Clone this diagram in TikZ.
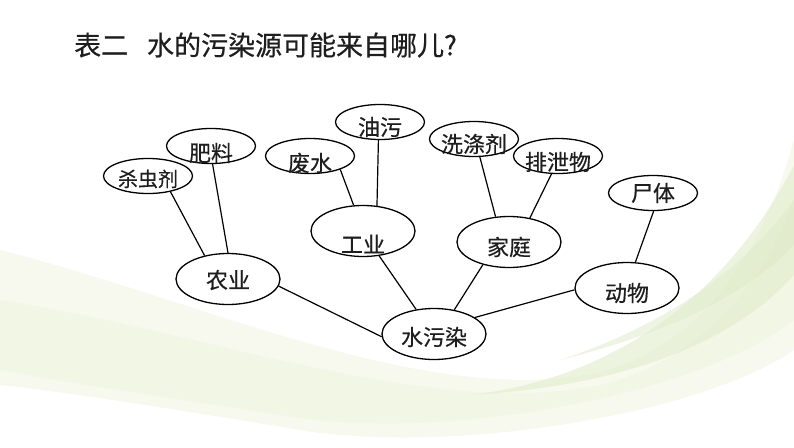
\documentclass[tikz,border=0pt]{standalone}
\usepackage{fontspec}
\newfontfamily\cjk[FakeBold=0.5]{Noto Sans CJK SC}
\usetikzlibrary{shapes.geometric,calc}
\definecolor{bgA}{RGB}{240,245,222}
\definecolor{bgB}{RGB}{222,235,200}
\definecolor{txt}{RGB}{30,30,30}
\tikzset{
  sel/.style={ellipse,draw=black,line width=1.3pt,fill=white,inner sep=0pt,minimum width=89pt,minimum height=35pt},
  bel/.style={ellipse,draw=black,line width=1.3pt,fill=white,inner sep=0pt,minimum width=104pt,minimum height=51pt},
  lbl/.style={font=\cjk\fontsize{22pt}{22pt}\selectfont,text=txt,inner sep=0pt},
  conn/.style={draw=black,line width=1.2pt}
}
\begin{document}
\begin{tikzpicture}[x=1pt,y=-1pt]
\useasboundingbox (0,0) rectangle (794,447);
\fill[white] (0,0) rectangle (794,447);
% background swooshes
\fill[bgA,opacity=0.5] (0,250) .. controls (200,300) and (430,410) .. (600,372)
  .. controls (700,345) and (760,260) .. (794,140) -- (794,350)
  .. controls (700,415) and (450,455) .. (300,430)
  .. controls (150,405) and (50,390) .. (0,385) -- cycle;
\fill[bgA,opacity=0.6] (0,300) .. controls (200,330) and (430,420) .. (600,385)
  .. controls (700,360) and (760,290) .. (794,200) -- (794,320)
  .. controls (700,395) and (450,440) .. (300,418)
  .. controls (150,395) and (50,380) .. (0,370) -- cycle;
\fill[bgB,opacity=0.55] (470,395) .. controls (640,375) and (740,270) .. (794,165)
  -- (794,275) .. controls (740,335) and (640,385) .. (470,395) -- cycle;
\fill[bgB,opacity=0.5] (560,360) .. controls (680,320) and (750,260) .. (794,200)
  -- (794,245) .. controls (750,290) and (680,330) .. (560,360) -- cycle;
% title
\node[anchor=west,inner sep=0pt,font=\cjk\fontsize{27pt}{27pt}\selectfont,text=txt] (title) at (74,45) {表二\hspace{0.7em}水的污染源可能来自哪儿?};
% ellipses
\node[bel] (shui) at (434,334) {};
\node[bel] (nongye) at (228,279) {};
\node[bel] (gongye) at (363,231) {};
\node[bel] (jiating) at (509,242) {};
\node[bel] (dongwu) at (627,288) {};
\node[sel] (sha) at (148,176) {};
\node[sel] (fei) at (211,146) {};
\node[sel] (feishui) at (310,156) {};
\node[sel] (youwu) at (380,122) {};
\node[sel] (xidi) at (474,139) {};
\node[sel] (paixie) at (558,156) {};
\node[sel] (shiti) at (653,193) {};
% connectors
\draw[conn] (sha.-35) -- (nongye.135);
\draw[conn] (fei.-85) -- (nongye.90);
\draw[conn] (feishui.-24) -- (gongye.110);
\draw[conn] (youwu.-95) -- (gongye.61);
\draw[conn] (xidi.-72) -- (jiating.118);
\draw[conn] (paixie.-110) -- (jiating.49);
\draw[conn] (shiti.-88) -- (dongwu.72);
\draw[conn] (nongye.-8) -- (shui.183);
\draw[conn] (gongye.-57) -- (shui.126);
\draw[conn] (jiating.-139) -- (shui.50);
\draw[conn] (dongwu.182) -- (shui.22);
% labels
\node[lbl] (shui-t) at ($(shui)+(0,3)$) {水污染};
\node[lbl] (nongye-t) at ($(nongye)+(0,1)$) {农业};
\node[lbl] (gongye-t) at ($(gongye)+(0,13)$) {工业};
\node[lbl] (jiating-t) at ($(jiating)+(0,5)$) {家庭};
\node[lbl] (dongwu-t) at ($(dongwu)+(0,5)$) {动物};
\node[lbl,font=\cjk\fontsize{20pt}{20pt}\selectfont] (sha-t) at ($(sha)+(0,3)$) {杀虫剂};
\node[lbl] (fei-t) at ($(fei)+(0,7)$) {肥料};
\node[lbl] (feishui-t) at ($(feishui)+(0,7)$) {废水};
\node[lbl] (youwu-t) at ($(youwu)+(0,5)$) {油污};
\node[lbl] (xidi-t) at ($(xidi)+(0,5)$) {洗涤剂};
\node[lbl] (paixie-t) at ($(paixie)+(0,6)$) {排泄物};
\node[lbl] (shiti-t) at ($(shiti)+(0,0)$) {尸体};
\end{tikzpicture}
\end{document}
